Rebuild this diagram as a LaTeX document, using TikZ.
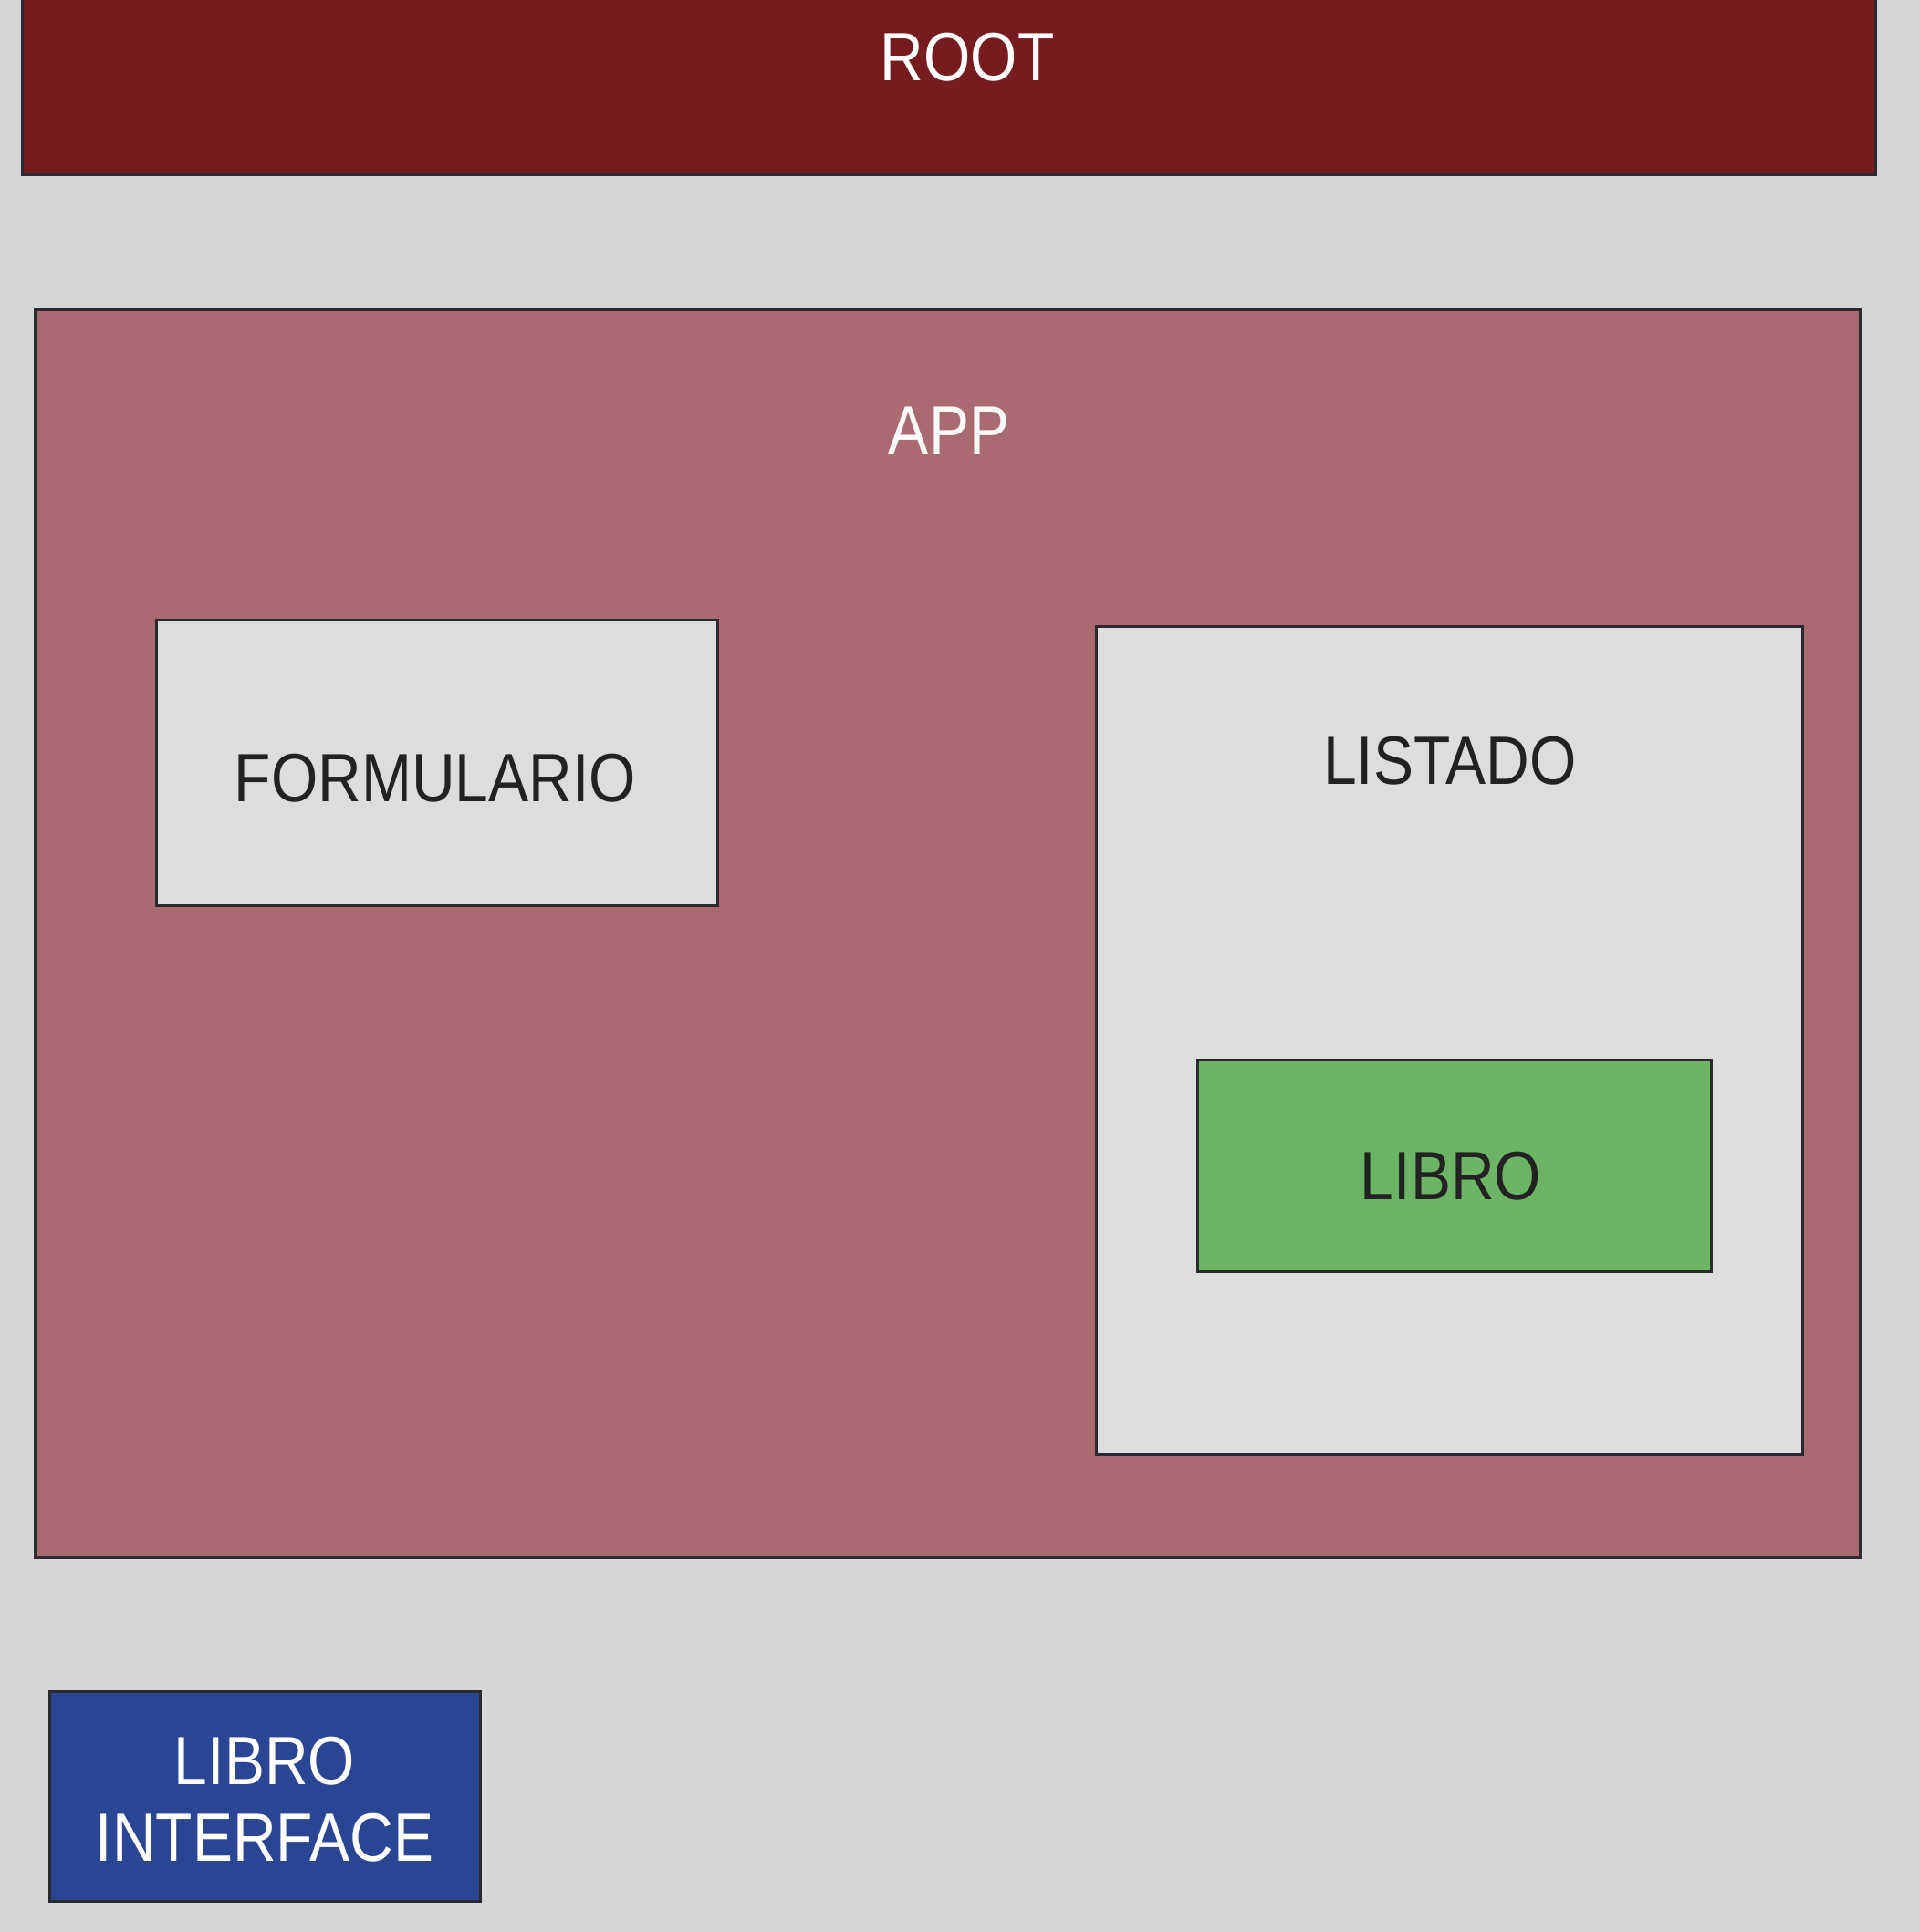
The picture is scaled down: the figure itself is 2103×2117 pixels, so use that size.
\documentclass[tikz,border=0pt]{standalone}
\usepackage{fontspec}
\setmainfont{Liberation Sans}[FakeStretch=0.88]
\definecolor{bgc}{HTML}{D5D7D7}
\definecolor{rootc}{HTML}{761C1E}
\definecolor{appc}{HTML}{A96A72}
\definecolor{boxc}{HTML}{DCDEDD}
\definecolor{greenc}{HTML}{6BB565}
\definecolor{bluec}{HTML}{2A4594}
\definecolor{linec}{HTML}{2A2A30}
\definecolor{textc}{HTML}{222222}
\tikzset{
  comp/.style={draw=linec, line width=3pt, rectangle, inner sep=0pt},
  lbl/.style={font=\fontsize{75}{84}\selectfont, inner sep=0pt, anchor=center},
}
\begin{document}
\begin{tikzpicture}[x=1pt,y=-1pt]
\useasboundingbox (0,0) rectangle (2103,2117);
\fill[bgc] (0,0) rectangle (2103,2117);
% ROOT
\node[comp, fill=rootc, minimum width=2031pt, minimum height=215pt] (root) at (1039.5,83.5) {};
\node[lbl, text=white] (rootlbl) at (1060,63) {ROOT};
% APP
\node[comp, fill=appc, minimum width=2000pt, minimum height=1367pt] (app) at (1038,1022.5) {};
\node[lbl, text=white!95!gray] (applbl) at (1040,472) {APP};
% FORMULARIO
\node[comp, fill=boxc, minimum width=615pt, minimum height=313pt] (form) at (478.5,835.5) {};
\node[lbl, text=textc] (formlbl) at (477,853) {FORMULARIO};
% LISTADO
\node[comp, fill=boxc, minimum width=774pt, minimum height=907pt] (list) at (1588,1139.5) {};
\node[lbl, text=textc] (listlbl) at (1589,834) {LISTADO};
% LIBRO
\node[comp, fill=greenc, minimum width=563pt, minimum height=232pt] (libro) at (1593.5,1277) {};
\node[lbl, text=textc] (librolbl) at (1590,1289) {LIBRO};
% LIBRO INTERFACE
\node[comp, fill=bluec, minimum width=472pt, minimum height=230pt] (iface) at (290,1968) {};
\node[lbl, text=white] (ifacelbl1) at (290,1930) {LIBRO};
\node[lbl, text=white] (ifacelbl2) at (290,2014) {INTERFACE};
\end{tikzpicture}
\end{document}
